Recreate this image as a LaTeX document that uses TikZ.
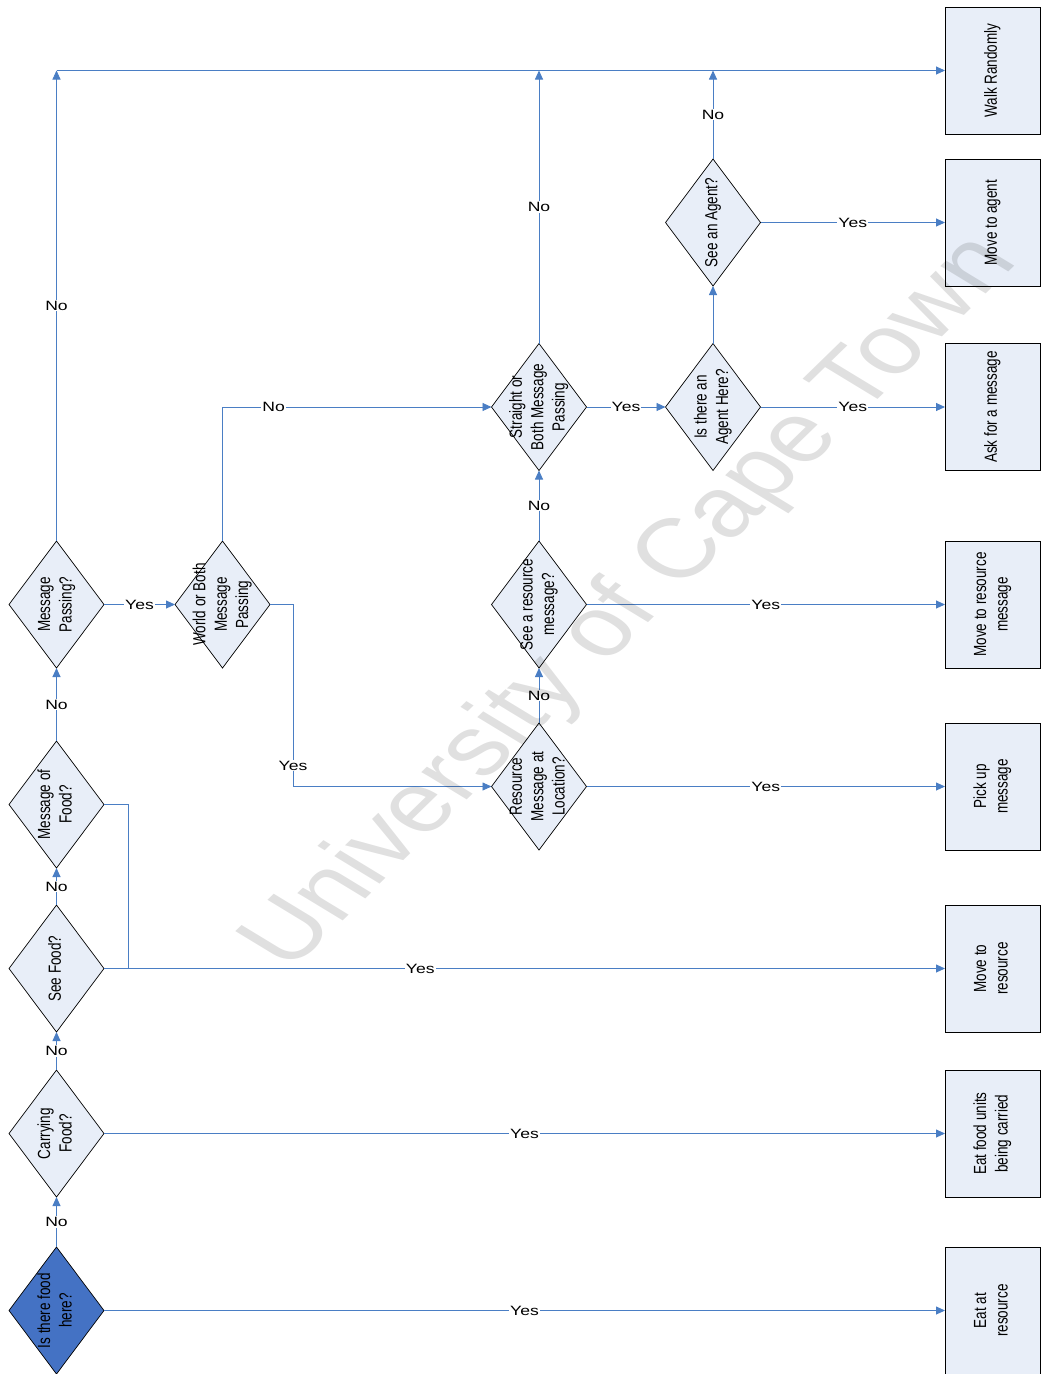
\documentclass[tikz,border=0pt]{standalone}
\usepackage{fontspec}
\setmainfont{Liberation Sans}
\usetikzlibrary{shapes.geometric,arrows.meta,calc}

\definecolor{lineblue}{HTML}{4A7EC4}
\definecolor{paleblue}{HTML}{E8EEF8}
\definecolor{darkblue}{HTML}{4472C4}

% text in shapes reads bottom to top and is widened across the line
\newcommand\vtext[1]{\scalebox{1}[1.3]{\begin{tabular}{@{}c@{}}#1\end{tabular}}}
\newcommand\htext[1]{\scalebox{1.3}[1]{#1}}

\tikzset{
  dia/.style={diamond, draw=black, line width=0.7pt, fill=paleblue,
    minimum width=95pt, minimum height=127pt, inner sep=0pt, outer sep=0pt},
  startdia/.style={dia, fill=darkblue},
  actbox/.style={rectangle, draw=black, line width=0.7pt, fill=paleblue,
    minimum width=95pt, minimum height=127pt, inner sep=0pt, outer sep=0pt},
  rtext/.style={rotate=90, inner sep=0pt, font=\fontsize{13.5}{16.5}\selectfont},
  flow/.style={draw=lineblue, line width=0.9pt, -{Triangle[length=9pt,width=8pt,fill=lineblue]}},
  plain/.style={draw=lineblue, line width=0.9pt},
  lbl/.style={fill=white, inner sep=1pt, font=\fontsize{13.5}{16.5}\selectfont},
}

\begin{document}
\begin{tikzpicture}[x=1pt,y=-1pt]
\useasboundingbox (0,0) rectangle (1047,1374);

% decisions
\node[startdia] (food)   at (56.5,1310.5) {};
\node[dia]      (carry)  at (56.5,1133.5) {};
\node[dia]      (see)    at (56.5,968.5)  {};
\node[dia]      (msgf)   at (56.5,804.5)  {};
\node[dia]      (msgp)   at (56.5,604.5)  {};
\node[dia]      (world)  at (222.5,604.5) {};
\node[dia]      (resloc) at (539,786.5)   {};
\node[dia]      (seeres) at (539,604.5)   {};
\node[dia]      (strt)   at (539,407)     {};
\node[dia]      (agh)    at (713,407)     {};
\node[dia]      (seeag)  at (713,222.5)   {};

\node[rtext] (foodt)   at (food)   {\vtext{Is there food\\here?}};
\node[rtext] (carryt)  at (carry)  {\vtext{Carrying\\Food?}};
\node[rtext] (seet)    at (see)    {\vtext{See Food?}};
\node[rtext] (msgft)   at (msgf)   {\vtext{Message of\\Food?}};
\node[rtext] (msgpt)   at (msgp)   {\vtext{Message\\Passing?}};
\node[rtext] (worldt)  at (world)  {\vtext{World or Both\\Message\\Passing}};
\node[rtext] (resloct) at (resloc) {\vtext{Resource\\Message at\\Location?}};
\node[rtext] (seerest) at (seeres) {\vtext{See a resource\\message?}};
\node[rtext] (strtt)   at (strt)   {\vtext{Straight or\\Both Message\\Passing}};
\node[rtext] (aght)    at (agh)    {\vtext{Is there an\\Agent Here?}};
\node[rtext] (seeagt)  at (seeag)  {\vtext{See an Agent?}};

% actions
\node[actbox] (walk)   at (992.5,70.5)   {};
\node[actbox] (mvag)   at (992.5,222.5)  {};
\node[actbox] (ask)    at (992.5,407)    {};
\node[actbox] (mvrm)   at (992.5,604.5)  {};
\node[actbox] (pick)   at (992.5,786.5)  {};
\node[actbox] (mvres)  at (992.5,968.5)  {};
\node[actbox] (eatcar) at (992.5,1133.5) {};
\node[actbox] (eatres) at (992.5,1310.5) {};

\node[rtext] (walkt)   at (walk)   {\vtext{Walk Randomly}};
\node[rtext] (mvagt)   at (mvag)   {\vtext{Move to agent}};
\node[rtext] (askt)    at (ask)    {\vtext{Ask for a message}};
\node[rtext] (mvrmt)   at (mvrm)   {\vtext{Move to resource\\message}};
\node[rtext] (pickt)   at (pick)   {\vtext{Pick up\\message}};
\node[rtext] (mvrest)  at (mvres)  {\vtext{Move to\\resource}};
\node[rtext] (eatcart) at (eatcar) {\vtext{Eat food units\\being carried}};
\node[rtext] (eatrest) at (eatres) {\vtext{Eat at\\resource}};

% junction points
\coordinate (top1) at (56.5,70.5);
\coordinate (top2) at (539,70.5);
\coordinate (top3) at (713,70.5);
\coordinate (j1)   at (128,968.5);
\coordinate (c4)   at (128,804.5);
\coordinate (c6)   at (293,604.5);

% connectors
\draw[flow] (food.east)   -- node[lbl] (l1) {\htext{Yes}} (eatres.west);
\draw[flow] (food.north)  -- node[lbl] (l2) {\htext{No}}  (carry.south);
\draw[flow] (carry.east)  -- node[lbl] (l3) {\htext{Yes}} (eatcar.west);
\draw[flow] (carry.north) -- node[lbl] (l4) {\htext{No}}  (see.south);
\draw[flow] (see.east)    -- node[lbl,pos=0.376] (l5) {\htext{Yes}} (mvres.west);
\draw[flow] (see.north)   -- node[lbl] (l6) {\htext{No}}  (msgf.south);
\draw[plain] (msgf.east) -- (c4) -- (j1);
\draw[flow] (msgf.north)  -- node[lbl] (l7) {\htext{No}}  (msgp.south);
\draw[flow] (msgp.east)   -- node[lbl] (l8) {\htext{Yes}} (world.west);
\draw[flow] (msgp.north)  -- node[lbl] (l9) {\htext{No}}  (top1);
\draw[flow] (top1) -- (walk.west);
\draw[flow] (world.north) -- (world.north |- strt.west)
            -- node[lbl,pos=0.19] (l10) {\htext{No}} (strt.west);
\draw[flow] (world.east) -- (c6)
            -- node[lbl,pos=0.885] (l11) {\htext{Yes}} (c6 |- resloc.west) -- (resloc.west);
\draw[flow] (resloc.east)  -- node[lbl] (l12) {\htext{Yes}} (pick.west);
\draw[flow] (resloc.north) -- node[lbl] (l13) {\htext{No}}  (seeres.south);
\draw[flow] (seeres.east)  -- node[lbl] (l14) {\htext{Yes}} (mvrm.west);
\draw[flow] (seeres.north) -- node[lbl] (l15) {\htext{No}}  (strt.south);
\draw[flow] (strt.north)   -- node[lbl] (l16) {\htext{No}}  (top2);
\draw[flow] (strt.east)    -- node[lbl] (l17) {\htext{Yes}} (agh.west);
\draw[flow] (agh.east)     -- node[lbl] (l18) {\htext{Yes}} (ask.west);
\draw[flow] (agh.north)    -- (seeag.south);
\draw[flow] (seeag.east)   -- node[lbl] (l19) {\htext{Yes}} (mvag.west);
\draw[flow] (seeag.north)  -- node[lbl] (l20) {\htext{No}}  (top3);

% watermark, laid over the chart
\begin{scope}[shift={(632,604)}, xscale=1.3]
  \node[rotate=51.7, transform shape, text=black, text opacity=0.12, inner sep=0pt,
        font=\fontsize{84}{84}\selectfont] (wm) at (0,0) {University of Cape Town};
\end{scope}

\end{tikzpicture}
\end{document}
